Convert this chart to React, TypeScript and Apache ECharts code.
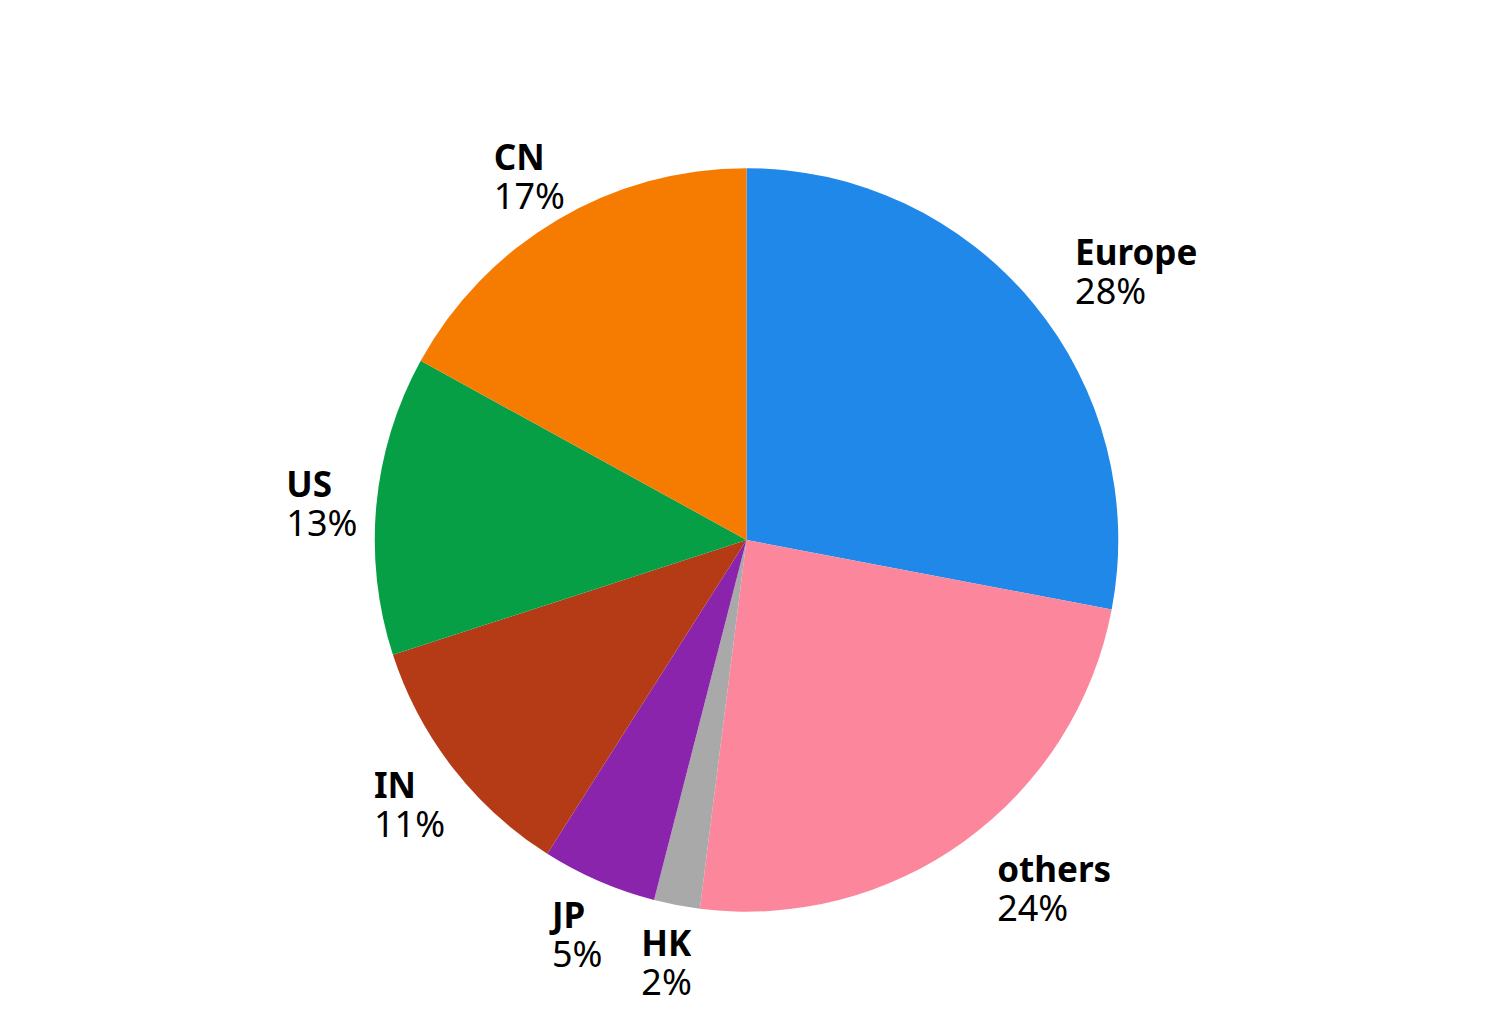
import React, { useEffect, useRef } from 'react';
import * as echarts from 'echarts';

const regions = ['Europe', 'others', 'HK', 'JP', 'IN', 'US', 'CN'];
const shares = [28, 24, 2, 5, 11, 13, 17];
const colors = ['#1f88e8', '#fc879c', '#a9a9a9', '#8b24ad', '#b53a16', '#069f45', '#f57c00'];

const FONT = '"Noto Sans", "DejaVu Sans", sans-serif';

const App: React.FC = () => {
  const chartRef = useRef<HTMLDivElement>(null);

  useEffect(() => {
    if (!chartRef.current) return;
    const chart = echarts.init(chartRef.current, undefined, { renderer: 'svg' });

    const total = shares.reduce((a, b) => a + b, 0);
    const starts: number[] = [];
    shares.reduce((acc, v, i) => {
      starts[i] = acc;
      return acc + v;
    }, 0);

    const option: echarts.EChartsOption = {
      animation: false,
      series: [
        {
          type: 'pie',
          center: ['50%', '53.3%'],
          radius: '73.4%',
          startAngle: 90,
          clockwise: true,
          avoidLabelOverlap: false,
          data: regions.map((name, i) => ({
            name,
            value: shares[i],
            itemStyle: { color: colors[i] },
          })),
          label: {
            show: true,
            position: 'outside',
            formatter: (p: any) => `{name|${p.name}}\n{pct|${p.value}%}`,
            rich: {
              name: { fontFamily: FONT, fontSize: 35, fontWeight: 'bold', color: '#000', align: 'left', lineHeight: 39 },
              pct: { fontFamily: FONT, fontSize: 36, color: '#000', align: 'left', lineHeight: 39 },
            },
          },
          labelLine: { show: false },
          labelLayout: (params: any) => {
            const i = params.dataIndex;
            const w = chart.getWidth();
            const h = chart.getHeight();
            const cx = w * 0.5;
            const cy = h * 0.533;
            const r = (Math.min(w, h) / 2) * 0.842;
            const mid = ((starts[i] + shares[i] / 2) / total) * Math.PI * 2;
            const x = cx + r * Math.sin(mid);
            const y = cy - r * Math.cos(mid) + 3;
            return {
              x,
              y,
              align: Math.sin(mid) > 0 ? 'left' : 'center',
              verticalAlign: 'middle',
            };
          },
          emphasis: { disabled: true },
        },
      ],
    };

    chart.setOption(option);

    const handleResize = () => chart.resize();
    window.addEventListener('resize', handleResize);

    return () => {
      window.removeEventListener('resize', handleResize);
      chart.dispose();
    };
  }, []);

  return (
    <div
      ref={chartRef}
      style={{ position: 'fixed', left: 0, top: 0, width: '100vw', height: '100vh', background: '#fff' }}
    />
  );
};

export default App;
